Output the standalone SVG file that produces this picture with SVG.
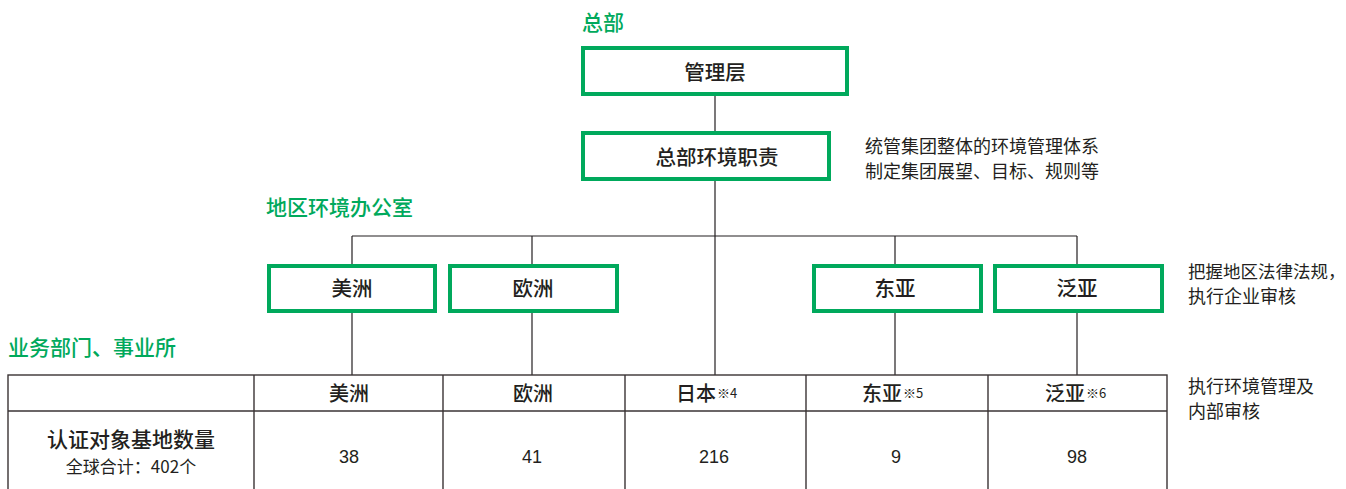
<svg xmlns="http://www.w3.org/2000/svg" width="1346" height="489" viewBox="0 0 1346 489">
<style>
  .bg { fill: #ffffff; }
  .box rect { fill: #ffffff; stroke: #00a95c; stroke-width: 4; }
  .box text { font-family: "Noto Sans CJK SC", sans-serif; font-size: 20.5px; font-weight: 500; fill: #231f20; text-anchor: middle; }
  .head { font-family: "Noto Sans CJK SC", sans-serif; font-size: 21px; font-weight: 500; fill: #00a95c; }
  .note { font-family: "Noto Sans CJK SC", sans-serif; font-size: 18px; fill: #231f20; }
  .conn line { stroke: #231f20; stroke-width: 1.2; }
  .tbl line, .tbl rect { stroke: #3a3334; stroke-width: 1.4; fill: none; }
  .th { font-family: "Noto Sans CJK SC", sans-serif; font-size: 20px; font-weight: 500; fill: #231f20; }
  .sup { font-size: 13px; font-weight: normal; }
  .num { font-family: "Liberation Sans", sans-serif; font-size: 18px; fill: #231f20; text-anchor: middle; }
  .sub { font-family: "Noto Sans CJK SC", sans-serif; font-size: 17px; fill: #231f20; text-anchor: middle; }
</style>
<rect class="bg" x="0" y="0" width="1346" height="489"/>

<g id="connectors" class="conn">
  <line x1="715" y1="96" x2="715" y2="131"/>
  <line x1="715" y1="181" x2="715" y2="375"/>
  <line x1="352" y1="236" x2="1077" y2="236"/>
  <line x1="352" y1="236" x2="352" y2="264"/>
  <line x1="532" y1="236" x2="532" y2="264"/>
  <line x1="895" y1="236" x2="895" y2="264"/>
  <line x1="1077" y1="236" x2="1077" y2="264"/>
  <line x1="352" y1="313" x2="352" y2="375"/>
  <line x1="532" y1="313" x2="532" y2="375"/>
  <line x1="895" y1="313" x2="895" y2="375"/>
  <line x1="1077" y1="313" x2="1077" y2="375"/>
</g>

<g id="label-hq"><text class="head" x="582" y="30">总部</text></g>
<g id="label-region"><text class="head" x="266" y="215">地区环境办公室</text></g>
<g id="label-biz"><text class="head" x="8" y="355">业务部门、事业所</text></g>

<g id="node-mgmt" class="box">
  <rect x="583" y="48" width="264" height="46"/>
  <text x="715" y="80">管理层</text>
</g>
<g id="node-hqenv" class="box">
  <rect x="583" y="133" width="246" height="46"/>
  <text x="717" y="165">总部环境职责</text>
</g>
<g id="note-hq">
  <text class="note" x="865" y="153">统管集团整体的环境管理体系</text>
  <text class="note" x="865" y="178">制定集团展望、目标、规则等</text>
</g>

<g id="node-americas" class="box">
  <rect x="269" y="266" width="166" height="45"/>
  <text x="352" y="296">美洲</text>
</g>
<g id="node-europe" class="box">
  <rect x="450" y="266" width="167" height="45"/>
  <text x="533" y="296">欧洲</text>
</g>
<g id="node-eastasia" class="box">
  <rect x="814" y="266" width="167" height="45"/>
  <text x="895" y="296">东亚</text>
</g>
<g id="node-panasia" class="box">
  <rect x="995" y="266" width="167" height="45"/>
  <text x="1077" y="296">泛亚</text>
</g>
<g id="note-region">
  <text class="note" x="1188" y="278" style="font-size:17.5px">把握地区法律法规，</text>
  <text class="note" x="1188" y="303">执行企业审核</text>
</g>

<g id="table" class="tbl">
  <rect x="8" y="375" width="1159" height="125"/>
  <line x1="8" y1="411" x2="1167" y2="411"/>
  <line x1="254" y1="375" x2="254" y2="500"/>
  <line x1="443" y1="375" x2="443" y2="500"/>
  <line x1="625" y1="375" x2="625" y2="500"/>
  <line x1="806" y1="375" x2="806" y2="500"/>
  <line x1="988" y1="375" x2="988" y2="500"/>
</g>
<g id="table-text">
  <text class="th" x="349" y="401" text-anchor="middle">美洲</text>
  <text class="th" x="533" y="401" text-anchor="middle">欧洲</text>
  <text class="th" x="676" y="401">日本<tspan class="sup" dx="1" dy="-3">※4</tspan></text>
  <text class="th" x="862" y="401">东亚<tspan class="sup" dx="1" dy="-3">※5</tspan></text>
  <text class="th" x="1045" y="401">泛亚<tspan class="sup" dx="1" dy="-3">※6</tspan></text>
  <text class="th" x="131" y="447" text-anchor="middle" style="font-size:21px">认证对象基地数量</text>
  <text class="sub" x="131" y="473">全球合计：402个</text>
  <text class="num" x="349" y="463">38</text>
  <text class="num" x="532" y="463">41</text>
  <text class="num" x="714" y="463">216</text>
  <text class="num" x="896" y="463">9</text>
  <text class="num" x="1077" y="463">98</text>
</g>
<g id="note-biz">
  <text class="note" x="1188" y="393">执行环境管理及</text>
  <text class="note" x="1188" y="418">内部审核</text>
</g>
</svg>
